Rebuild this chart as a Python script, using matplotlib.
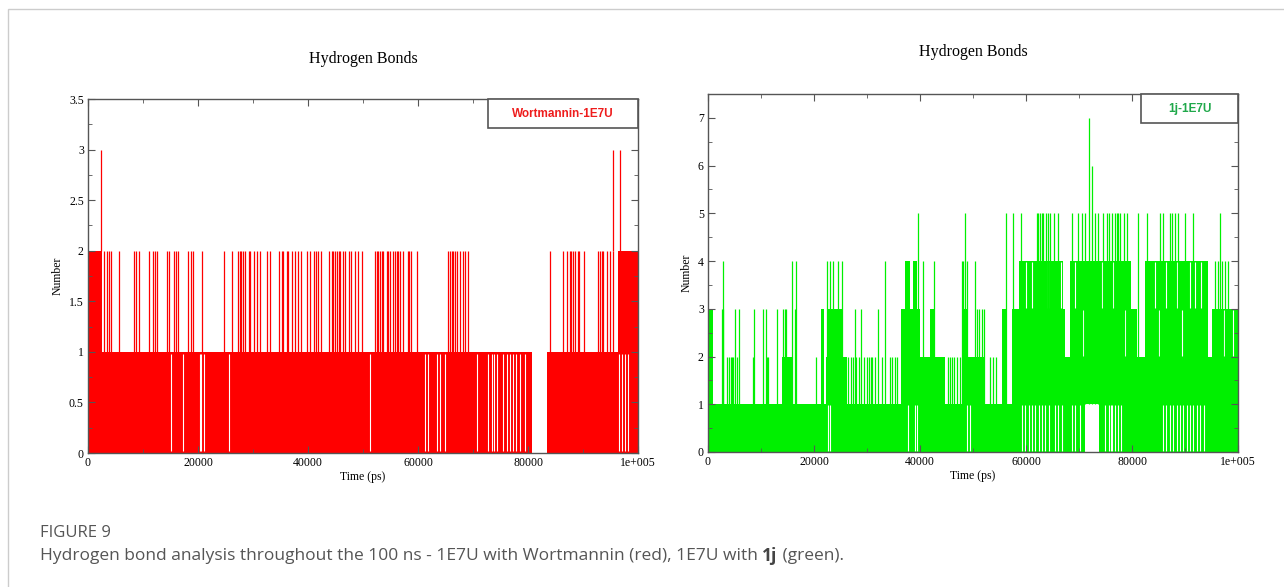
import numpy as np
import matplotlib.pyplot as plt
from matplotlib.patches import Rectangle
from matplotlib.ticker import MultipleLocator, FixedLocator, FormatStrFormatter

# ---------------- data (time in ps) ----------------
# dense regions where the count flickers quickly between lo and hi: (t0, t1, lo, hi)
red_dense = [(0, 2600, 0, 2), (2600, 80700, 0, 1), (83400, 100000, 0, 1),
             (96400, 100000, 1, 2)]
# isolated jumps 1 -> 2
red_peak2 = [2900, 3400, 3900, 4200, 5600, 8400, 8700, 9300, 11100, 11900, 12200,
             12600, 14300, 14700, 15700, 16000, 16400, 18100, 18700, 19000, 20800,
             24800, 26100, 27300, 27600, 27900, 28200, 28500, 29200, 29500, 30100,
             30700, 31300, 32500, 33100, 34800, 35200, 35500, 36100, 36400, 37000,
             37600, 38200, 38800, 39800, 40400, 41000, 41500, 41900, 42300, 43900,
             44300, 44600, 44900, 45200, 45600, 45900, 46300, 46700, 47500, 47900,
             48500, 49100, 49900, 52200, 52500, 52800, 53100, 53400, 53700, 54300,
             54600, 54900, 55500, 55800, 56100, 56400, 56700, 57300, 58100, 58400,
             58700, 59900, 65500, 65800, 66100, 66400, 66700, 67000, 67600, 68100,
             68500, 69100, 84000, 86400, 87000, 87600, 87900, 88200, 88500, 89000,
             89300, 90100, 92800, 93100, 93400, 93700, 94300, 94900, 95500]
# jumps up to 3
red_peak3 = [2400, 95400, 96700]
# short stretches where the count stayed at 1 (no drop to 0)
red_stay1 = [15100, 17300, 20400, 20600, 21000, 25600, 51300, 61300, 61900, 63400,
             64000, 64900, 70700, 72800, 73400, 73800, 74400, 75500, 76100, 76700,
             77300, 77900, 78500, 79500, 96600, 97000, 97600, 98100]

green_dense = [(0, 71100, 0, 1), (73700, 100000, 0, 1),
               (0, 1000, 1, 3), (14000, 15800, 1, 2), (21300, 21900, 1, 3),
               (22300, 26200, 1, 2), (22700, 25500, 2, 3),
               (36500, 40000, 1, 3), (37200, 38200, 3, 4), (38700, 39400, 3, 4),
               (40000, 44700, 1, 2), (41900, 42800, 2, 3),
               (47900, 52000, 1, 2), (47900, 49000, 2, 3),
               (55400, 56200, 1, 3), (57300, 67400, 1, 3), (58600, 67000, 3, 4),
               (67400, 68300, 1, 2), (68300, 79900, 1, 4),
               (79900, 82500, 1, 2), (79900, 81000, 2, 3),
               (82500, 94400, 1, 4), (94400, 95000, 1, 2), (95000, 100000, 1, 3)]
# isolated jumps: (time, top value)
green_peaks = [(2600, 3), (2800, 3), (2900, 4), (3500, 2), (4000, 2), (4300, 2),
               (4500, 2), (4800, 2), (5100, 3), (5500, 2), (5900, 3), (8400, 2),
               (8600, 3), (10300, 3), (10900, 3), (11100, 2), (11300, 2), (13000, 3),
               (14200, 3), (14500, 3), (14700, 3), (15800, 4), (16400, 3), (16600, 4),
               (20400, 2), (22500, 4), (23000, 4), (23500, 4), (24600, 4), (25300, 4),
               (26500, 2), (27000, 2), (27400, 2), (27700, 3), (27900, 2), (28400, 2),
               (28900, 3), (29500, 2), (30000, 2), (30300, 2), (30800, 2), (31000, 2),
               (31500, 2), (32100, 3), (32800, 2), (33400, 4), (34300, 2), (34700, 2),
               (35300, 2), (35600, 2), (39100, 4), (39700, 5), (40600, 4), (42200, 3),
               (42700, 4), (45200, 2), (45700, 2), (46000, 2), (46500, 2), (47000, 2),
               (47600, 2), (47900, 4), (48200, 4), (48500, 5), (48800, 4), (50400, 4),
               (50700, 3), (51200, 3), (51700, 3), (52000, 3), (53300, 2), (53800, 2),
               (54300, 2), (55800, 3), (56200, 5), (57600, 5), (59000, 5), (62000, 5),
               (62300, 5), (62700, 5), (63000, 5), (63300, 5), (63700, 5), (64100, 5),
               (64600, 5), (65200, 5), (66100, 5), (68600, 5), (69900, 5), (70500, 5),
               (71100, 5), (71800, 7), (72500, 6), (73000, 5), (73500, 5), (74600, 5),
               (75200, 5), (75700, 5), (76200, 5), (76700, 5), (77100, 5), (77400, 5),
               (77700, 5), (78400, 5), (79000, 5), (81200, 5), (82800, 5), (85300, 5),
               (85900, 5), (87200, 5), (87500, 5), (88100, 5), (88700, 5), (90000, 5),
               (91600, 5), (95700, 4), (96200, 4), (96600, 5), (97000, 4), (97600, 4),
               (98200, 4)]
green_stay1 = [22600, 23000, 37700, 39100, 39400, 48800, 49500, 59200, 59800, 60500,
               61100, 61700, 62400, 63000, 63600, 64300, 65500, 66100, 66800, 68600,
               69200, 70200, 74900, 75700, 76000, 76300, 76800, 77400, 78000, 85900,
               86500, 87100, 87800, 88400, 89000, 89700, 90300, 90900, 91600, 92200,
               92800, 93500]
# short breaks inside the upper dense bands: (time, lo, hi)
green_breaks = [(60000, 3, 4), (61100, 3, 4), (64200, 3, 4), (66600, 3, 4),
                (69300, 3, 4), (70800, 2, 3), (74300, 3, 4), (76500, 3, 4),
                (78600, 2, 3), (84300, 3, 4), (85000, 2, 3), (86500, 3, 4),
                (88400, 3, 4), (89400, 2, 3), (91000, 3, 4), (91900, 3, 4),
                (93100, 3, 4), (97300, 2, 3), (99000, 2, 3)]

RED = '#ff0000'
GREEN = '#00f000'
SERIF = 'Liberation Serif'


def draw_series(ax, dense, peaks, breaks, color):
    for t0, t1, lo, hi in dense:
        ax.fill_between([t0, t1], lo, hi, color=color, lw=0)
    for t, lo, hi in breaks:
        ax.vlines(t, lo + 0.02, hi - 0.02, colors='white', lw=0.8)
    for t, lo, hi in peaks:
        ax.vlines(t, lo, hi, colors=color, lw=0.9)


def style_axes(ax, ymax, ymajor, yminor, title, pad, legend, legend_color, box_x):
    ax.set_xlim(0, 100000)
    ax.set_ylim(0, ymax)
    ax.xaxis.set_major_locator(FixedLocator([0, 20000, 40000, 60000, 80000, 100000]))
    ax.xaxis.set_minor_locator(MultipleLocator(10000))
    ax.set_xticklabels(['0', '20000', '40000', '60000', '80000', '1e+005'])
    ax.yaxis.set_major_locator(FixedLocator(np.arange(0, ymax + 0.01, ymajor)))
    ax.yaxis.set_minor_locator(MultipleLocator(yminor))
    ax.yaxis.set_major_formatter(FormatStrFormatter('%g'))
    ax.tick_params(which='both', direction='in', top=True, right=True,
                   color='#555555', labelsize=8.5, pad=3)
    ax.tick_params(which='major', length=5)
    ax.tick_params(which='minor', length=3)
    for lab in ax.get_xticklabels() + ax.get_yticklabels():
        lab.set_fontfamily(SERIF)
    for s in ax.spines.values():
        s.set_color('#555555')
        s.set_linewidth(1.0)
    ax.set_xlabel('Time (ps)', family=SERIF, fontsize=8.5, labelpad=1)
    ax.set_ylabel('Number', family=SERIF, fontsize=8.5, labelpad=4)
    ax.set_title(title, family=SERIF, fontsize=11.5, pad=pad)
    ax.add_patch(Rectangle((box_x, 0.918), 1 - box_x, 0.082, transform=ax.transAxes,
                           facecolor='white', edgecolor='#555555', lw=1.2,
                           zorder=5, clip_on=False))
    ax.text((1 + box_x) / 2, 0.959, legend, transform=ax.transAxes, ha='center',
            va='center', color=legend_color, fontsize=8.5, fontweight='bold',
            family='Liberation Sans', zorder=6)


fig = plt.figure(figsize=(12.84, 5.87), dpi=100)
fig.patches.append(Rectangle((8 / 1284, -0.1), 1.2, 1 - 9 / 587 + 0.1,
                             transform=fig.transFigure, facecolor='none',
                             edgecolor='#cccccc', lw=1))

ax1 = fig.add_axes([88 / 1284, 1 - 453 / 587, 550 / 1284, 354 / 587])
draw_series(ax1, red_dense,
            [(t, 1, 2) for t in red_peak2] + [(t, 2, 3) for t in red_peak3],
            [(t, 0, 1) for t in red_stay1], RED)
style_axes(ax1, 3.5, 0.5, 0.25, 'Hydrogen Bonds', 26, 'Wortmannin-1E7U',
           '#ee1c1c', 0.727)

ax2 = fig.add_axes([708 / 1284, 1 - 452 / 587, 530 / 1284, 358 / 587])
draw_series(ax2, green_dense, [(t, 1, v) for t, v in green_peaks],
            [(t, 0, 1) for t in green_stay1] + green_breaks, GREEN)
style_axes(ax2, 7.5, 1, 0.5, 'Hydrogen Bonds', 27, '1j-1E7U', '#1fa84a', 0.817)

# caption
fig.text(40 / 1284, 1 - 533 / 587, 'FIGURE 9', family='Open Sans', fontsize=12,
         color='#555555', va='center')
t1 = fig.text(40 / 1284, 1 - 556 / 587,
              'Hydrogen bond analysis throughout the 100 ns - 1E7U with Wortmannin (red), 1E7U with ',
              family='Open Sans', fontsize=12.5, color='#555555', va='center')
fig.canvas.draw()
r = fig.canvas.get_renderer()
x = t1.get_window_extent(r).x1 / fig.bbox.width
t2 = fig.text(x, 1 - 556 / 587, '1j', family='Open Sans', fontsize=12.5,
              color='#444444', fontweight='bold', va='center')
x = t2.get_window_extent(r).x1 / fig.bbox.width
fig.text(x, 1 - 556 / 587, ' (green).', family='Open Sans', fontsize=12.5,
         color='#555555', va='center')

fig.savefig('out.png', dpi=100)
